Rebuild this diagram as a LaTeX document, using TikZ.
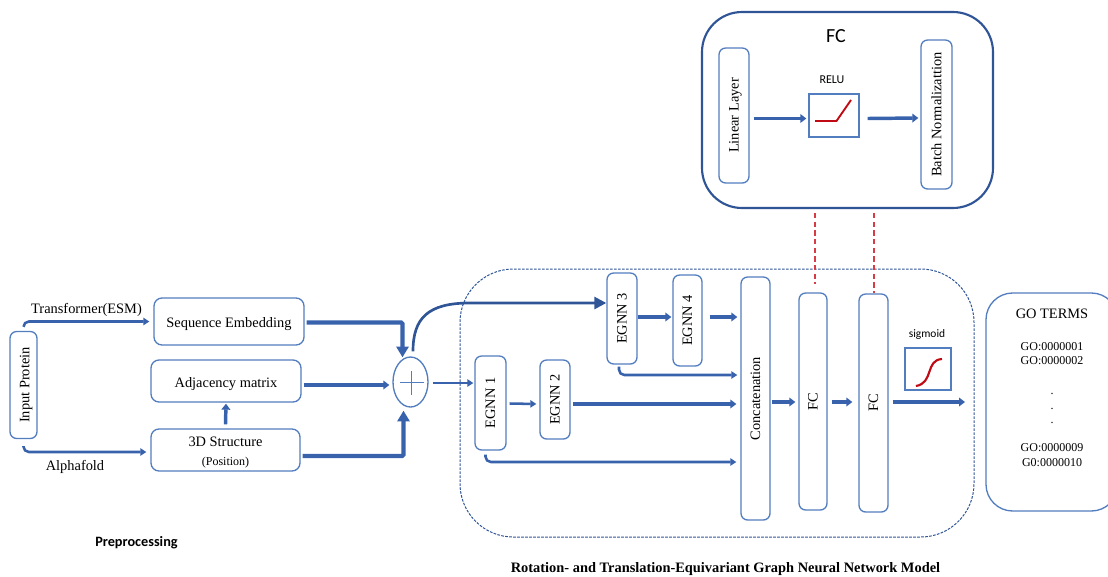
\documentclass[tikz,border=0pt]{standalone}
\usepackage{fontspec}
\setmainfont{Liberation Serif}
\newfontfamily\calfont{Carlito}
\usetikzlibrary{arrows.meta,calc,shapes.geometric}

\definecolor{boxblue}{RGB}{82,125,190}
\definecolor{flowblue}{RGB}{56,98,172}
\definecolor{darkblue}{RGB}{47,85,151}
\definecolor{curvered}{RGB}{192,10,20}
\definecolor{linkred}{RGB}{214,60,70}

\newcommand{\lowtext}[1]{\raisebox{-2pt}[\height][\depth]{#1}}

\tikzset{every picture/.style={line width=0.75pt}}
\tikzset{
	every node/.style={font=\fontsize{10.8}{13}\selectfont},
	sized/.style 2 args={minimum width=#1*0.75pt,minimum height=#2*0.75pt,inner sep=0pt},
	blockbox/.style={draw=boxblue,line width=1pt,rounded corners=5pt,align=center},
	flowthin/.style={draw=flowblue,line width=1.9pt,rounded corners=4pt,-{Triangle[length=4.5pt,width=5.5pt]}},
	flowmid/.style={draw=flowblue,line width=2.6pt,rounded corners=4pt,-{Triangle[length=4.5pt,width=6.5pt]}},
	flowheavy/.style={draw=flowblue,line width=3.2pt,-{Triangle[length=8pt,width=9pt]}},
	linkdash/.style={draw=linkred,line width=1pt,dash pattern=on 4pt off 2.5pt},
	tinytext/.style={font=\fontsize{9}{10.9}\selectfont},
}

\begin{document}
\begin{tikzpicture}[x=0.75pt,y=0.75pt,yscale=-1,xscale=1]
	\clip (0,0) rectangle (1108,576);

	% model frame and FC detail
	\node [sized={514}{268},draw=darkblue,rounded corners=40pt,dash pattern=on 2pt off 1pt] (modelframe) at (717,403) {};
	\node [sized={291}{196},draw=darkblue,line width=1.6pt,rounded corners=30pt] (fcframe) at (847.5,110) {};
	\node [font=\calfont\fontsize{15}{18}\selectfont] (fctitle) at (836,36.5) {FC};

	% preprocessing
	\node [blockbox,sized={27}{107}] (input) at (23.5,385) {\hspace*{4pt}\rotatebox{90}{Input Protein}};
	\node [blockbox,sized={150}{47},rounded corners=6pt] (seqemb) at (229,321.5) {\lowtext{Sequence Embedding}};
	\node [blockbox,sized={150}{42},rounded corners=6pt] (adjmat) at (226,381) {\lowtext{Adjacency matrix}};
	\node [blockbox,sized={149}{42},rounded corners=6pt] (struct) at (225.5,450) {\lowtext{3D Structure}\\[1pt]\lowtext{\fontsize{9}{10.9}\selectfont (Position)}};
	\node (esmlabel) at (86.5,310) {Transformer(ESM)};
	\node (foldlabel) at (75,466.5) {Alphafold};
	\node [draw=boxblue,line width=1pt,ellipse,sized={35}{50}] (plus) at (410.5,382) {};
	\node [font=\calfont\bfseries\fontsize{10.7}{13}\selectfont] (prelabel) at (136.5,542.5) {Preprocessing};

	% egnn layers
	\node [blockbox,sized={31}{94}] (egnnone) at (490.5,403) {\rotatebox{90}{EGNN 1}};
	\node [blockbox,sized={30}{79}] (egnntwo) at (555,399.5) {\rotatebox{90}{EGNN 2}};
	\node [blockbox,sized={30}{91}] (egnnthree) at (622,318.5) {\rotatebox{90}{EGNN 3}};
	\node [blockbox,sized={29}{91}] (egnnfour) at (687.5,320.5) {\rotatebox{90}{EGNN 4}};
	\node [blockbox,sized={29}{243}] (concat) at (755.5,398.5) {\rotatebox{90}{Concatenation}};
	\node [blockbox,sized={28}{217}] (fcone) at (813,401.5) {\rotatebox{90}{FC}};
	\node [blockbox,sized={29}{218}] (fctwo) at (873.5,403) {\rotatebox{90}{FC}};
	\node [draw=boxblue,line width=1pt,sized={46}{42}] (sigbox) at (928,369) {};
	\node [font=\calfont\fontsize{8.6}{11}\selectfont] (siglabel) at (927,334) {sigmoid};
	\coordinate (modelout) at (965,402);
	\node [font=\bfseries\fontsize{10.8}{13}\selectfont] (modellabel) at (725.5,569.5) {Rotation- and Translation-Equivariant Graph Neural Network Model};

	% go terms
	\node [blockbox,sized={132}{218},rounded corners=20pt] (goframe) at (1052,402) {};
	\node (gotitle) at (1052,314) {GO TERMS};
	\node [tinytext,align=center] (gotop) at (1052,353.5) {GO:0000001\\GO:0000002};
	\node [tinytext,align=center] (godots) at (1052,408.5) {.\\.\\.};
	\node [tinytext,align=center] (gobottom) at (1052,455) {GO:0000009\\G0:0000010};

	% inside fc
	\node [blockbox,sized={30}{135}] (linear) at (734,115.5) {\hspace*{2pt}\rotatebox{90}{Linear Layer}};
	\node [draw=boxblue,line width=1pt,sized={50}{43}] (relu) at (834,115.5) {};
	\node [blockbox,sized={31}{149}] (batch) at (936.5,114.5) {\rotatebox{90}{Batch Normalizattion}};
	\node [font=\calfont\fontsize{9}{11}\selectfont] (relulabel) at (832,80) {RELU};

	% activation curves
	\draw [curvered,line width=1.4pt] (815,121) -- (836.5,121) -- (851,100);
	\draw [curvered,line width=1.6pt] (916,386) .. controls (934,383) and (925,360) .. (942,359);

	% plus sign
	\draw [boxblue,line width=1pt] (400,382.5) -- (424,382.5);
	\draw [boxblue,line width=1pt] (411.5,371) -- (411.5,395);

	% connectors
	\draw [flowthin] ($(input.north)+(0,-4)$) |- ($(seqemb.west)+(-4,0)$);
	\draw [flowthin] ($(input.south)+(0,7)$) |- ($(struct.west)+(-4,2)$);
	\draw [flowheavy,rounded corners=1pt] ($(seqemb.east)+(2,1)$) -| ($(plus.north)+(-8,1)$);
	\draw [flowmid] ($(adjmat.east)+(2,4)$) -- ($(plus.west)+(-3,3)$);
	\draw [flowheavy,rounded corners=1pt] ($(struct.east)+(2,6)$) -| ($(plus.south)+(-7,3)$);
	\draw [flowmid] ($(struct.north)+(0,-4)$) -- ($(adjmat.south)+(0,1)$);
	\draw [flowthin] ($(plus.east)+(4,1)$) -- ($(egnnone.west)+(-1,-20)$);
	\draw [draw=darkblue,line width=2pt,-{Triangle[length=9pt,width=9pt]}] ($(plus.north)+(2.5,-5)$) .. controls (413,318) and (428,303) .. (470,303) -- ($(egnnthree.west)+(0,-15.5)$);

	\draw [flowthin] ($(egnnone.east)+(3,0.5)$) -- ($(egnntwo.west)+(-3,4.5)$);
	\draw [flowmid] ($(egnntwo.east)+(2,4.5)$) -- ($(concat.west)+(-4,5.5)$);
	\draw [flowthin] ($(egnnone.south)+(-5,4)$) |- ($(concat.west)+(-4,63.5)$);
	\draw [flowmid] ($(egnnthree.east)+(0,-1.5)$) -- ($(egnnfour.west)+(-1,-3.5)$);
	\draw [flowmid] ($(egnnfour.east)+(7,-3.5)$) -- ($(concat.west)+(-3,-81.5)$);
	\draw [flowthin] ($(egnnthree.south)+(-3,2)$) |- ($(concat.west)+(-3,-23.5)$);
	\draw [flowmid] ($(concat.east)+(1,3.5)$) -- ($(fcone.west)+(-3,0.5)$);
	\draw [flowmid] ($(fcone.east)+(4,0.5)$) -- ($(fctwo.west)+(-6,-1)$);
	\draw [flowmid] ($(fctwo.east)+(4,-1)$) -- (modelout);

	\draw [flowmid] ($(linear.east)+(4,3)$) -- ($(relu.west)+(-2,3)$);
	\draw [flowmid] ($(relu.east)+(8,3)$) -- ($(batch.west)+(-2,3.5)$);

	\draw [linkdash] ($(fcframe.south -| fcone.north)+(2,4)$) -- ($(fcone.north)+(2,-8)$);
	\draw [linkdash] ($(fcframe.south -| fctwo.north)+(0.5,4)$) -- ($(fctwo.north)+(0.5,0)$);
\end{tikzpicture}
\end{document}
